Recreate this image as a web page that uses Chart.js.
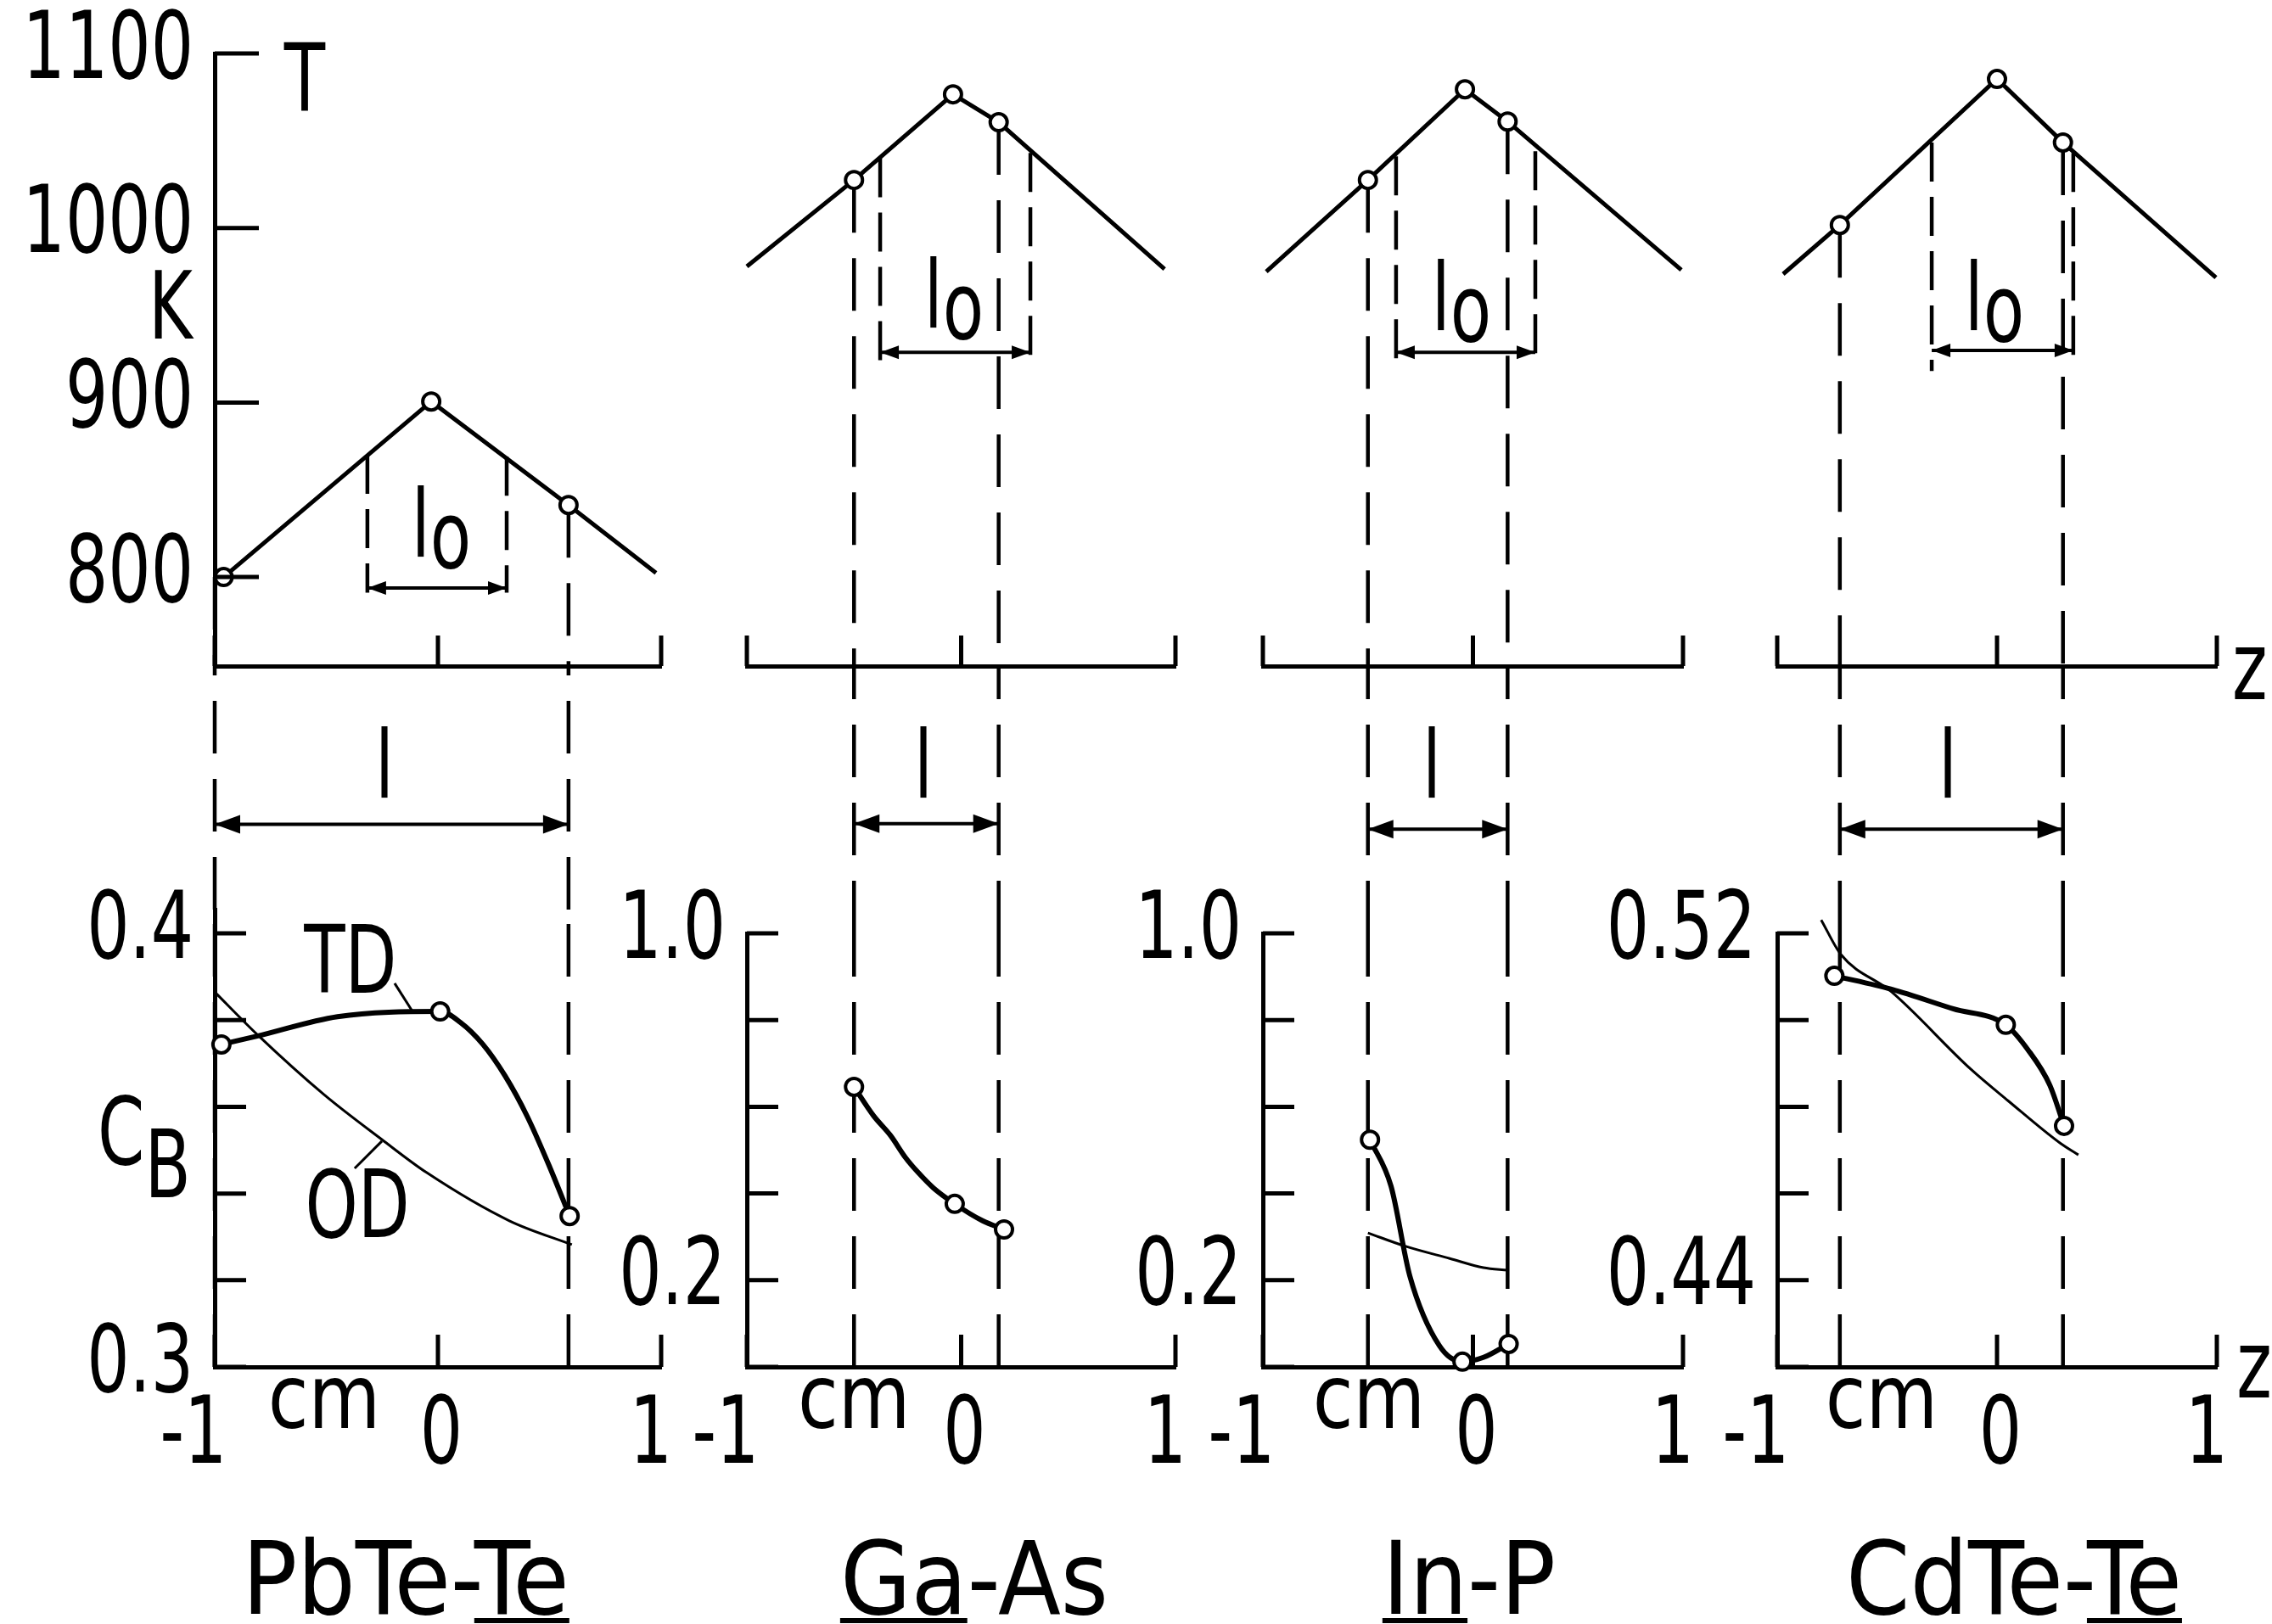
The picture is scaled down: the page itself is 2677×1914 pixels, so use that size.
<!DOCTYPE html>
<html>
<head>
<meta charset="utf-8">
<script src="https://cdn.jsdelivr.net/npm/chart.js@4.4.1/dist/chart.umd.min.js"></script>
<style>
  html, body { margin: 0; background: #fff; }
  #page { position: relative; width: 2677px; height: 1914px; overflow: hidden; background: #fff; }
  #page canvas { position: absolute; }
  .name { position: absolute; top: 1801px; width: 600px; margin-left: -300px; text-align: center; color: #000;
          font: 120px/120px "Liberation Sans Narrow", "DejaVu Sans Condensed", "Liberation Sans", sans-serif; }
  .name u { text-decoration-thickness: 6px; text-underline-offset: 5px; }
</style>
</head>
<body>
<div id="page"></div>
<script>
const FONT = '"Liberation Sans Narrow", "DejaVu Sans Condensed", "Liberation Sans", sans-serif';
const SX = 0.8; // the lettering of the figure is narrow, squeeze canvas text

// ---- values: z in cm, T in K, C_B mole fraction ----
const alloys = ['PbTe-Te', 'Ga-As', 'In-P', 'CdTe-Te'];
const solvents = ['Te', 'Ga', 'In', 'Te'];
const zTicks = [-1, 0, 1];
const zLabels = ['-1', '0', '1'];
const tempRange = [749, 1100];
const tempTicks = [800, 900, 1000, 1100];
const tempLabels = ['800', '900', '1000', '1100'];

// PbTe-Te
const pbteTempZ = [-0.96, -0.03, 0.585, 0.977];
const pbteTempK = [800, 900.6, 841.3, 802.4];
const pbteTempMarks = [0, 1, 2];
const pbteDropZ = [-1, 0.585];
const pbteLoZ = [-0.316, 0.308];
const pbteLoTopK = [870, 869];
const pbteTdZ = [-0.97, -0.81, -0.45, 0.01, 0.1, 0.2, 0.3, 0.4, 0.5, 0.59];
const pbteTdC = [0.3744, 0.3763, 0.3808, 0.382, 0.3795, 0.3745, 0.3672, 0.3578, 0.3462, 0.3348];
const pbteTdMarks = [0, 3, 9];
const pbteOdZ = [-1, -0.81, -0.51, -0.25, -0.05, 0.32, 0.6];
const pbteOdC = [0.3865, 0.3767, 0.3628, 0.3524, 0.3448, 0.3337, 0.3282];
const pbteCRange = [0.3, 0.4055];
const pbteCTicks = [0.3, 0.32, 0.34, 0.36, 0.38, 0.4];
const pbteCLabels = ['0.3', '', '', '', '', '0.4'];

// Ga-As
const gaasTempZ = [-1, -0.5, -0.038, 0.175, 0.949];
const gaasTempK = [978, 1027.5, 1076.6, 1060.6, 976.5];
const gaasTempMarks = [1, 2, 3];
const gaasDropZ = [-0.5, 0.175];
const gaasLoZ = [-0.378, 0.323];
const gaasLoTopK = [1040, 1043];
const gaasTdZ = [-0.5, -0.41, -0.33, -0.26, -0.2, -0.13, -0.03, 0.1, 0.2];
const gaasTdC = [0.646, 0.58, 0.534, 0.483, 0.448, 0.413, 0.376, 0.337, 0.317];
const gaasTdMarks = [0, 6, 8];
const gaasOdZ = [];
const gaasOdC = [];
const gaasCRange = [0, 1];
const gaasCTicks = [0, 0.2, 0.4, 0.6, 0.8, 1];
const gaasCLabels = ['', '0.2', '', '', '', '1.0'];

// In-P
const inpTempZ = [-0.984, -0.5, -0.038, 0.165, 0.992];
const inpTempK = [975, 1027.5, 1079.5, 1061, 976];
const inpTempMarks = [1, 2, 3];
const inpDropZ = [-0.5, 0.165];
const inpLoZ = [-0.366, 0.297];
const inpLoTopK = [1041, 1044];
const inpTdZ = [-0.49, -0.39, -0.3, -0.16, -0.05, 0.05, 0.17];
const inpTdC = [0.524, 0.417, 0.209, 0.049, 0.012, 0.022, 0.053];
const inpTdMarks = [0, 4, 6];
const inpOdZ = [-0.5, -0.32, -0.11, 0.05, 0.165];
const inpOdC = [0.309, 0.278, 0.25, 0.229, 0.223];
const inpCRange = [0, 1];
const inpCTicks = [0, 0.2, 0.4, 0.6, 0.8, 1];
const inpCLabels = ['', '0.2', '', '', '', '1.0'];

// CdTe-Te
const cdteTempZ = [-0.973, -0.715, 0, 0.3, 0.996];
const cdteTempK = [973.6, 1001.7, 1085.4, 1049, 971.6];
const cdteTempMarks = [1, 2, 3];
const cdteDropZ = [-0.715, 0.3];
const cdteLoZ = [-0.297, 0.347];
const cdteLoTopK = [1049, 1043];
const cdteTdZ = [-0.74, -0.48, -0.2, 0.04, 0.14, 0.24, 0.305];
const cdteTdC = [0.5102, 0.5071, 0.5026, 0.4989, 0.4932, 0.485, 0.4756];
const cdteTdMarks = [0, 3, 6];
const cdteOdZ = [-0.8, -0.71, -0.48, -0.12, 0.05, 0.29, 0.37];
const cdteOdC = [0.5231, 0.5151, 0.5065, 0.4887, 0.4814, 0.4715, 0.4689];
const cdteCRange = [0.42, 0.52];
const cdteCTicks = [0.42, 0.44, 0.46, 0.48, 0.5, 0.52];
const cdteCLabels = ['', '0.44', '', '', '', '0.52'];

// ---- layout (page pixels) and annotation placement ----
const colLeft = [253, 880, 1488, 2094];
const colRight = [779, 1385, 1983, 2612];
const topY = [63, 785];
const bottomTop = [1072, 1100, 1100, 1100];
const bottomY = 1611;
const nameX = [478, 1148, 1731, 2373];
const zLabelShift = [-25, 4, -12];
const loArrowK = [793.7, 928.8, 928.8, 929.8];
const loFootK = [[791, 791], [921.5, 926], [924, 924], [918, 927]];
const loLabelAt = [[0.015, 825.8], [-0.034, 957], [-0.055, 955.6], [-0.012, 955.6]];
const lArrowLevel = [0.35, 0.41, 0.39, 0.39];
const lLabelAt = [[-0.24, 0.56], [-0.176, 0.6], [-0.196, 0.6], [-0.224, 0.6]];
const cmAt = [[-0.51, 0.2912], [-0.5, -0.088], [-0.495, -0.088], [-0.525, 0.4112]];
const tdLeader = [[-0.194, 0.3885], [-0.114, 0.382]];
const odLeader = [[-0.373, 0.3458], [-0.251, 0.3521]];

const panels = [
  {tempZ: pbteTempZ, tempK: pbteTempK, tempMarks: pbteTempMarks, dropZ: pbteDropZ, loZ: pbteLoZ, loTopK: pbteLoTopK,
   tdZ: pbteTdZ, tdC: pbteTdC, tdMarks: pbteTdMarks, odZ: pbteOdZ, odC: pbteOdC, cRange: pbteCRange, cTicks: pbteCTicks, cLabels: pbteCLabels},
  {tempZ: gaasTempZ, tempK: gaasTempK, tempMarks: gaasTempMarks, dropZ: gaasDropZ, loZ: gaasLoZ, loTopK: gaasLoTopK,
   tdZ: gaasTdZ, tdC: gaasTdC, tdMarks: gaasTdMarks, odZ: gaasOdZ, odC: gaasOdC, cRange: gaasCRange, cTicks: gaasCTicks, cLabels: gaasCLabels},
  {tempZ: inpTempZ, tempK: inpTempK, tempMarks: inpTempMarks, dropZ: inpDropZ, loZ: inpLoZ, loTopK: inpLoTopK,
   tdZ: inpTdZ, tdC: inpTdC, tdMarks: inpTdMarks, odZ: inpOdZ, odC: inpOdC, cRange: inpCRange, cTicks: inpCTicks, cLabels: inpCLabels},
  {tempZ: cdteTempZ, tempK: cdteTempK, tempMarks: cdteTempMarks, dropZ: cdteDropZ, loZ: cdteLoZ, loTopK: cdteLoTopK,
   tdZ: cdteTdZ, tdC: cdteTdC, tdMarks: cdteTdMarks, odZ: cdteOdZ, odC: cdteOdC, cRange: cdteCRange, cTicks: cdteCTicks, cLabels: cdteCLabels}
];

Chart.defaults.font.family = FONT;
Chart.defaults.color = '#000';

function squeezed(ctx, text, x, y, size, align, sx) {
  ctx.save();
  ctx.font = size + 'px ' + FONT;
  ctx.translate(x, y);
  ctx.scale(sx, 1);
  ctx.textAlign = align;
  ctx.textBaseline = 'middle';
  ctx.fillStyle = '#000';
  ctx.fillText(text, 0, 0);
  ctx.restore();
}

// arrow heads on both ends of datasets flagged with arrowEnds: [length, halfWidth]
Chart.register({
  id: 'arrowHeads',
  afterDatasetsDraw(chart) {
    const ctx = chart.ctx;
    chart.data.datasets.forEach((ds, i) => {
      if (!ds.arrowEnds) return;
      const pts = chart.getDatasetMeta(i).data;
      const a = pts[0], b = pts[pts.length - 1];
      const [len, half] = ds.arrowEnds;
      ctx.save();
      ctx.fillStyle = '#000';
      ctx.beginPath();
      ctx.moveTo(a.x, a.y); ctx.lineTo(a.x + len, a.y - half); ctx.lineTo(a.x + len, a.y + half);
      ctx.closePath(); ctx.fill();
      ctx.beginPath();
      ctx.moveTo(b.x, b.y); ctx.lineTo(b.x - len, b.y - half); ctx.lineTo(b.x - len, b.y + half);
      ctx.closePath(); ctx.fill();
      ctx.restore();
    });
  }
});

// tick marks pointing into the plot, plus the (narrow) tick labels
function axisMarks(o) {
  return {
    id: 'axisMarks',
    afterDraw(chart) {
      const {ctx, chartArea: a, scales: {x, y}} = chart;
      ctx.save();
      ctx.strokeStyle = '#000';
      ctx.lineWidth = 5;
      ctx.beginPath();
      if (o.xLen) x.ticks.forEach(t => {
        const p = x.getPixelForValue(t.value);
        ctx.moveTo(p, a.bottom); ctx.lineTo(p, a.bottom - o.xLen);
      });
      if (o.yLen) y.ticks.forEach(t => {
        const p = y.getPixelForValue(t.value);
        ctx.moveTo(a.left, p); ctx.lineTo(a.left + o.yLen, p);
      });
      ctx.stroke();
      ctx.restore();
      if (o.yLabels) y.ticks.forEach((t, i) => {
        if (o.yLabels[i]) squeezed(ctx, o.yLabels[i], a.left - 25, y.getPixelForValue(t.value), 110, 'right', SX);
      });
      if (o.xLabels) x.ticks.forEach((t, i) => {
        squeezed(ctx, o.xLabels[i], x.getPixelForValue(t.value) + zLabelShift[i], a.bottom + 84, 110, 'center', SX);
      });
    }
  };
}

// free text placed in data coordinates
function notes(items) {
  return {
    id: 'notes',
    afterDatasetsDraw(chart) {
      const {ctx, scales: {x, y}} = chart;
      items.forEach(n => {
        const px = x.getPixelForValue(n.x), py = y.getPixelForValue(n.y);
        const size = n.size || 110, sx = n.sx || SX;
        if (n.sub) {
          ctx.font = size + 'px ' + FONT;
          const w1 = ctx.measureText(n.text).width * sx;
          const w2 = ctx.measureText(n.sub).width * sx;
          const x0 = px - (w1 + w2) / 2;
          squeezed(ctx, n.text, x0, py, size, 'left', sx);
          squeezed(ctx, n.sub, x0 + w1, py + n.subDy, size, 'left', sx);
        } else {
          squeezed(ctx, n.text, px, py, size, 'center', sx);
        }
      });
    }
  };
}

function xy(xs, ys) { return xs.map((x, i) => ({x, y: ys[i]})); }
function pick(xs, ys, idx) { return idx.map(i => ({x: xs[i], y: ys[i]})); }
function line(data, width, extra) {
  return Object.assign({data, borderColor: '#000', borderWidth: width, pointRadius: 0, pointHoverRadius: 0,
    tension: 0, fill: false, clip: false}, extra || {});
}
function vline(z, from, to, dash) {
  return line([{x: z, y: from}, {x: z, y: to}], 4.5, {borderDash: dash || [62, 30]});
}
function hline(z0, z1, level, head) {
  return line([{x: z0, y: level}, {x: z1, y: level}], 4, {arrowEnds: head});
}
function marks(data) {
  return {data, showLine: false, borderColor: '#000', pointRadius: 10, pointHoverRadius: 10, pointBorderWidth: 4,
    pointBackgroundColor: '#fff', pointBorderColor: '#000', clip: false};
}

function zScale() {
  return {
    type: 'linear', min: -1, max: 1,
    afterBuildTicks: s => { s.ticks = zTicks.map(v => ({value: v})); },
    afterFit: s => { s.height = 0; },
    grid: {display: false, drawTicks: false},
    border: {display: true, color: '#000', width: 5},
    ticks: {display: false, autoSkip: false}
  };
}
function valueScale(range, ticks, show) {
  return {
    type: 'linear', min: range[0], max: range[1], display: show,
    afterBuildTicks: s => { s.ticks = ticks.map(v => ({value: v})); },
    afterFit: s => { s.width = 0; },
    grid: {display: false, drawTicks: false},
    border: {display: true, color: '#000', width: 5},
    ticks: {display: false, autoSkip: false}
  };
}

const page = document.getElementById('page');
function makeChart(box, area, datasets, xScale, yScale, plugins) {
  const c = document.createElement('canvas');
  c.width = box[2] - box[0];
  c.height = box[3] - box[1];
  c.style.left = box[0] + 'px';
  c.style.top = box[1] + 'px';
  page.appendChild(c);
  return new Chart(c, {
    type: 'line',
    data: {datasets},
    options: {
      responsive: false, animation: false, events: [], devicePixelRatio: 1,
      layout: {padding: {left: area[0] - box[0], top: area[1] - box[1], right: box[2] - area[2], bottom: box[3] - area[3]}},
      plugins: {legend: {display: false}, tooltip: {enabled: false}},
      scales: {x: xScale, y: yScale}
    },
    plugins
  });
}

panels.forEach((p, k) => {
  const L = colLeft[k], R = colRight[k];
  const boxL = Math.max(0, L - 253), boxR = Math.min(2677, R + 70);

  // temperature profile
  const topNotes = [{text: 'l', sub: 'o', subDy: 13, x: loLabelAt[k][0], y: loLabelAt[k][1]}];
  if (k === 0) {
    topNotes.push({text: 'T', x: -0.597, y: 1081}, {text: 'K', x: -1.198, y: 950.7});
  }
  if (k === 3) topNotes.push({text: 'z', x: 1.15, y: 744});
  makeChart([boxL, 0, boxR, 900], [L, topY[0], R, topY[1]], [
    marks(pick(p.tempZ, p.tempK, p.tempMarks)),
    line(xy(p.tempZ, p.tempK), 5),
    vline(p.loZ[0], p.loTopK[0], loFootK[k][0], [46, 18]),
    vline(p.loZ[1], p.loTopK[1], loFootK[k][1], [46, 18]),
    hline(p.loZ[0], p.loZ[1], loArrowK[k], [22, 8]),
    vline(p.dropZ[0], p.tempK[p.tempMarks[0]], tempRange[0]),
    vline(p.dropZ[1], p.tempK[p.tempMarks[2]], tempRange[0])
  ], zScale(), valueScale(tempRange, tempTicks, k === 0),
  [axisMarks(k === 0 ? {xLen: 36, yLen: 52, yLabels: tempLabels} : {xLen: 36}), notes(topNotes)]);

  // zone length l between the profiles
  makeChart([L - 40, 760, R + 40, bottomTop[k] + 20], [L, topY[1], R, bottomTop[k]], [
    vline(p.dropZ[0], 0, 1),
    vline(p.dropZ[1], 0, 1),
    hline(p.dropZ[0], p.dropZ[1], lArrowLevel[k], [30, 11])
  ], {type: 'linear', min: -1, max: 1, display: false}, {type: 'linear', min: 0, max: 1, display: false},
  [notes([{text: 'l', x: lLabelAt[k][0], y: lLabelAt[k][1]}])]);

  // concentration profiles
  const botNotes = [{text: 'cm', size: 105, sx: 0.92, x: cmAt[k][0], y: cmAt[k][1]}];
  const botSets = [
    marks(pick(p.tdZ, p.tdC, p.tdMarks)),
    line(xy(p.tdZ, p.tdC), 6, {cubicInterpolationMode: 'monotone'})
  ];
  if (p.odZ.length) botSets.push(line(xy(p.odZ, p.odC), 3, {cubicInterpolationMode: 'monotone'}));
  if (k === 0) {
    botSets.push(line(xy(tdLeader.map(q => q[0]), tdLeader.map(q => q[1])), 3));
    botSets.push(line(xy(odLeader.map(q => q[0]), odLeader.map(q => q[1])), 3));
    botNotes.push({text: 'C', sub: 'B', subDy: 39, x: -1.316, y: 0.3524},
      {text: 'TD', x: -0.392, y: 0.392}, {text: 'OD', x: -0.361, y: 0.3356});
  }
  if (k === 3) botNotes.push({text: 'z', x: 1.17, y: 0.4186});
  botSets.push(vline(p.dropZ[0], p.cRange[0], p.cRange[1]), vline(p.dropZ[1], p.cRange[0], p.cRange[1]));
  makeChart([boxL, 1000, boxR, 1780], [L, bottomTop[k], R, bottomY], botSets,
    zScale(), valueScale(p.cRange, p.cTicks, true),
    [axisMarks({xLen: 38, yLen: 37, xLabels: zLabels, yLabels: p.cLabels}), notes(botNotes)]);
});

// alloy names, the melt component underlined
alloys.forEach((name, k) => {
  const d = document.createElement('div');
  d.className = 'name';
  d.style.left = nameX[k] + 'px';
  name.split('-').forEach((part, i) => {
    if (i) d.appendChild(document.createTextNode('-'));
    if (part === solvents[k]) {
      const u = document.createElement('u');
      u.textContent = part;
      d.appendChild(u);
    } else {
      d.appendChild(document.createTextNode(part));
    }
  });
  page.appendChild(d);
});
</script>
</body>
</html>
